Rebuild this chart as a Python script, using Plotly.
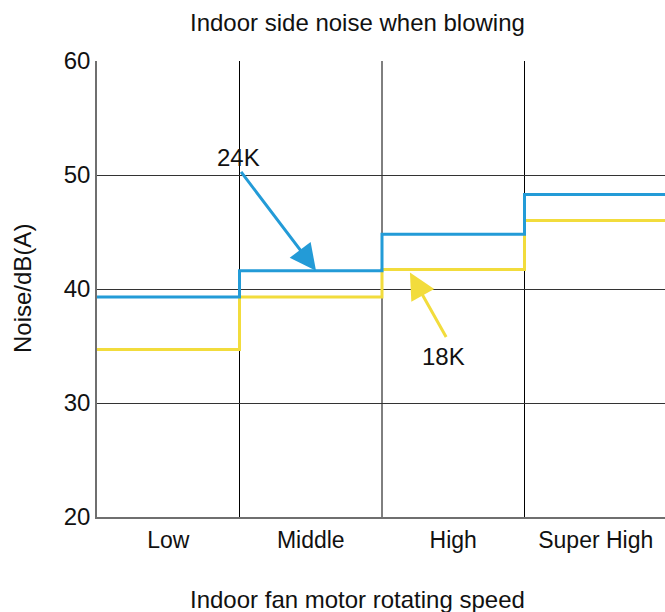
import plotly.graph_objects as go

categories = ["Low", "Middle", "High", "Super High"]
noise_24k = [39.3, 41.6, 44.8, 48.3]
noise_18k = [34.7, 39.3, 41.7, 46.0]
y_ticks = [20, 30, 40, 50, 60]

BLUE = "#239bd7"
YELLOW = "#f2dc3c"
FONT = "Liberation Sans, Arial, sans-serif"

edges = list(range(len(categories) + 1))
centers = [i + 0.5 for i in range(len(categories))]

fig = go.Figure()
fig.add_trace(go.Scatter(x=edges, y=noise_18k + [noise_18k[-1]], mode="lines",
                         line=dict(color=YELLOW, width=3, shape="hv"),
                         showlegend=False, hoverinfo="skip"))
fig.add_trace(go.Scatter(x=edges, y=noise_24k + [noise_24k[-1]], mode="lines",
                         line=dict(color=BLUE, width=3, shape="hv"),
                         showlegend=False, hoverinfo="skip"))

anns = [
    dict(text="Indoor side noise when blowing", xref="paper", yref="paper",
         x=0.458, y=1.0, yshift=39, xanchor="center", yanchor="middle",
         showarrow=False, font=dict(size=24)),
    dict(text="Indoor fan motor rotating speed", xref="paper", yref="paper",
         x=0.458, y=0.0, yshift=-82, xanchor="center", yanchor="middle",
         showarrow=False, font=dict(size=24)),
    dict(text="Noise/dB(A)", xref="paper", yref="paper", x=0.0, xshift=-75,
         y=0.5, xanchor="center", yanchor="middle", textangle=-90,
         showarrow=False, font=dict(size=24)),
    # arrows
    dict(text="", x=1.537, y=41.6, ax=1.003, ay=50.4, axref="x", ayref="y",
         showarrow=True, arrowhead=2, arrowsize=1.75, arrowwidth=3,
         arrowcolor=BLUE, standoff=0, startstandoff=0),
    dict(text="24K", x=0.99, y=51.5, showarrow=False, font=dict(size=24)),
    dict(text="", x=2.196, y=41.45, ax=2.456, ay=35.66, axref="x", ayref="y",
         showarrow=True, arrowhead=2, arrowsize=1.75, arrowwidth=3,
         arrowcolor=YELLOW, standoff=0, startstandoff=0),
    dict(text="18K", x=2.43, y=34.08, showarrow=False, font=dict(size=24)),
]

fig.update_layout(
    width=665, height=612,
    margin=dict(l=97, r=0, t=61, b=95),
    paper_bgcolor="white", plot_bgcolor="white",
    font=dict(family=FONT, size=24, color="#111111"),
    annotations=anns,
    xaxis=dict(range=[0, 3.986], tickvals=centers, ticktext=categories,
               showgrid=False, zeroline=False, ticks="",
               showline=True, linecolor="#6f6f6f", linewidth=1.5,
               ticklabelstandoff=2, tickfont=dict(size=23),
               automargin=False),
    yaxis=dict(range=[20, 60], tickvals=y_ticks, showgrid=True,
               gridcolor="#333333", gridwidth=1, zeroline=False, ticks="",
               showline=True, linecolor="#6f6f6f", linewidth=1.5,
               tickfont=dict(size=24), automargin=False),
)
for xv in edges[1:-1]:
    fig.add_vline(x=xv, line=dict(color="#000000", width=1), layer="below")

fig.write_html(
    "out.html",
    config={"displayModeBar": False},
    post_script="document.body.style.margin='0';document.body.style.overflow='hidden';",
)
